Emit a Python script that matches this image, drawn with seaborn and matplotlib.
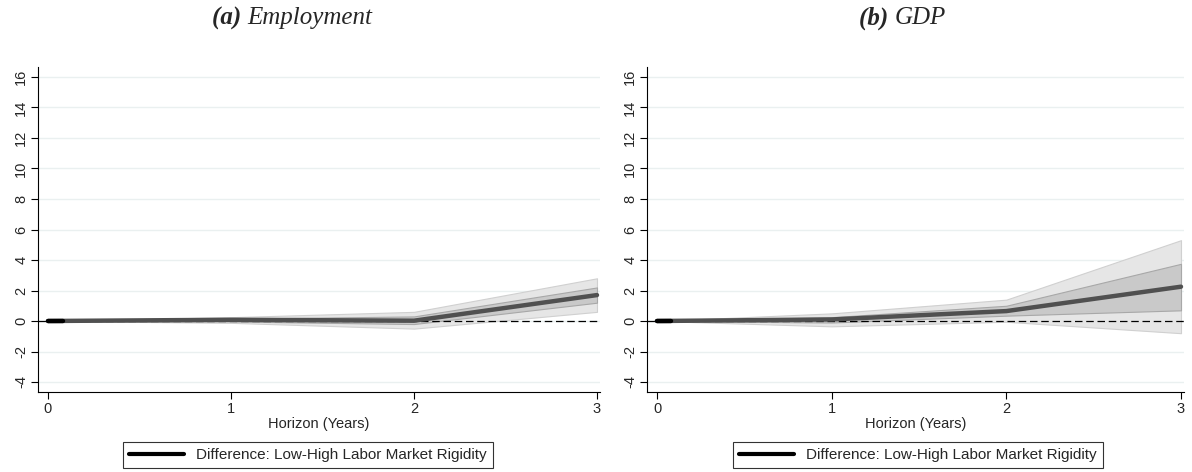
import numpy as np
import pandas as pd
import matplotlib
matplotlib.use("Agg")
import matplotlib.pyplot as plt
import seaborn as sns
from matplotlib.lines import Line2D

sns.set_theme(style="white")
plt.rcParams['font.family'] = ['Liberation Sans', 'DejaVu Sans']

horizon = [0, 1, 2, 3]

emp_point = [0.0, 0.08, 0.02, 1.7]
emp_lo90 = [0.0, -0.12, -0.5, 0.6]
emp_hi90 = [0.0, 0.25, 0.6, 2.8]
emp_lo68 = [0.0, -0.03, -0.2, 1.2]
emp_hi68 = [0.0, 0.15, 0.3, 2.2]

gdp_point = [0.0, 0.1, 0.65, 2.25]
gdp_lo90 = [0.0, -0.35, -0.05, -0.8]
gdp_hi90 = [0.0, 0.5, 1.4, 5.3]
gdp_lo68 = [0.0, -0.1, 0.35, 0.7]
gdp_hi68 = [0.0, 0.25, 1.0, 3.75]

titles = ["Employment", "GDP"]
letters = ["(a)", "(b)"]
yticks = [-4, -2, 0, 2, 4, 6, 8, 10, 12, 14, 16]
legend_label = "Difference: Low-High Labor Market Rigidity"

fig = plt.figure(figsize=(11.92, 4.72), dpi=100)
W, H = 1192, 472
boxes = [(38, 600), (647, 1184)]
title_cx = [292, 902]
legend_cx = [308, 918]
panels = [
    (emp_point, emp_lo90, emp_hi90, emp_lo68, emp_hi68),
    (gdp_point, gdp_lo90, gdp_hi90, gdp_lo68, gdp_hi68),
]
renderer = fig.canvas.get_renderer()
for i, ((l, r), (pt, lo90, hi90, lo68, hi68)) in enumerate(zip(boxes, panels)):
    ax = fig.add_axes([l / W, (H - 392) / H, (r - l) / W, (392 - 67) / H])
    unit = (r - l - 13) / 3.0
    ax.set_xlim(-10 / unit, 3 + 3 / unit)
    ax.set_ylim(-4 - 10 / 15.25, 16 + 10 / 15.25)
    for y in yticks:
        ax.axhline(y, color="#eaf0f0", lw=1.0, zorder=0)
    ax.fill_between(horizon, lo90, hi90, facecolor="#e6e6e6", edgecolor="#d0d0d0", lw=0.8, zorder=1)
    ax.fill_between(horizon, lo68, hi68, facecolor="#c9c9c9", edgecolor="#a8a8a8", lw=0.8, zorder=2)
    ax.axhline(0, color="black", lw=0.9, ls=(0, (6, 3)), zorder=3)
    df = pd.DataFrame({"h": horizon, "v": pt})
    sns.lineplot(data=df, x="h", y="v", ax=ax, color="#505050", lw=3.2, zorder=4)
    ax.plot([0, 0.08], [0, 0], color="black", lw=3.2, zorder=5)
    ax.set_xticks(horizon)
    ax.set_xticklabels([str(h) for h in horizon], fontsize=10.5)
    ax.set_yticks(yticks)
    ax.set_yticklabels([str(y) for y in yticks], fontsize=10.5, rotation=90, va="center")
    ax.tick_params(axis="both", which="both", direction="out", length=5, width=0.8,
                   color="black", bottom=True, left=True, pad=2)
    for s in ["top", "right"]:
        ax.spines[s].set_visible(False)
    for s in ["bottom", "left"]:
        ax.spines[s].set_color("black")
        ax.spines[s].set_linewidth(0.8)
    ax.set_xlabel("Horizon (Years)", fontsize=10.5, labelpad=1)
    ax.set_ylabel("")

    # title: bold italic letter + italic word, centred as a whole
    ty = 1 - 18 / H
    t1 = fig.text(0, ty, letters[i] + " ", ha="left", va="center", fontsize=18,
                  family="Liberation Serif", style="italic", weight="bold")
    t2 = fig.text(0, ty, titles[i], ha="left", va="center", fontsize=18,
                  family="Liberation Serif", style="italic")
    w1 = t1.get_window_extent(renderer).width
    w2 = t2.get_window_extent(renderer).width
    x0 = title_cx[i] - (w1 + w2) / 2
    t1.set_x(x0 / W)
    t2.set_x((x0 + w1) / W)

    handle = Line2D([], [], color="black", lw=3)
    lx = (legend_cx[i] - l) / (r - l)
    leg = ax.legend([handle], [legend_label], loc="center", bbox_to_anchor=(lx, -0.195),
                    frameon=True, fontsize=11, fancybox=False, handlelength=3.6,
                    borderpad=0.4, handletextpad=0.8, borderaxespad=0,
                    edgecolor="black")
    leg.get_frame().set_linewidth(0.8)

fig.savefig("out.png", dpi=100)
